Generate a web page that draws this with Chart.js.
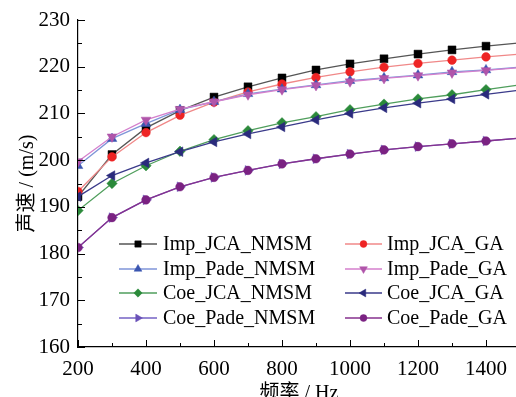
<!DOCTYPE html>
<html>
<head>
<meta charset="utf-8">
<script src="https://cdn.jsdelivr.net/npm/chart.js@4.4.1/dist/chart.umd.min.js"></script>
<style>
  html, body { margin: 0; padding: 0; background: #fff; overflow: hidden; }
  #wrap { width: 530px; height: 406px; }
</style>
</head>
<body>
<div id="wrap"><canvas id="grafico" width="530" height="406"></canvas></div>
<script>
// frecuencias (la ultima sin marcador, la linea sigue hasta el borde)
const freqs = [200, 300, 400, 500, 600, 700, 800, 900, 1000, 1100, 1200, 1300, 1400, 1500];

const impJcaNmsm  = [192.2, 201.2, 206.9, 210.6, 213.5, 215.7, 217.6, 219.3, 220.6, 221.7, 222.7, 223.6, 224.4, 225.1];
const impJcaGa    = [193.3, 200.7, 205.9, 209.6, 212.4, 214.6, 216.3, 217.7, 218.9, 219.9, 220.7, 221.4, 222.1, 222.7];
const impPadeNmsm = [198.8, 204.6, 207.8, 210.8, 212.5, 214.2, 215.2, 216.1, 217.0, 217.6, 218.2, 218.9, 219.3, 219.9];
const impPadeGa   = [199.7, 205.0, 208.6, 210.9, 212.5, 214.0, 215.1, 216.0, 216.8, 217.5, 218.1, 218.7, 219.2, 219.8];
const coeJcaNmsm  = [189.2, 195.0, 198.8, 201.9, 204.4, 206.3, 208.0, 209.3, 210.8, 212.0, 213.1, 214.0, 215.1, 216.1];
const coeJcaGa    = [192.2, 196.7, 199.4, 201.8, 203.9, 205.6, 207.1, 208.6, 210.0, 211.2, 212.2, 213.1, 214.1, 215.0];
const coePadeNmsm = [181.3, 187.7, 191.5, 194.3, 196.3, 197.8, 199.2, 200.3, 201.3, 202.2, 202.9, 203.5, 204.1, 204.7];
const coePadeGa   = [181.3, 187.7, 191.5, 194.3, 196.3, 197.8, 199.2, 200.3, 201.3, 202.2, 202.9, 203.5, 204.1, 204.7];

const nombres = ['Imp_JCA_NMSM', 'Imp_JCA_GA', 'Imp_Pade_NMSM', 'Imp_Pade_GA',
                 'Coe_JCA_NMSM', 'Coe_JCA_GA', 'Coe_Pade_NMSM', 'Coe_Pade_GA'];
const series = [impJcaNmsm, impJcaGa, impPadeNmsm, impPadeGa, coeJcaNmsm, coeJcaGa, coePadeNmsm, coePadeGa];

const xTicks = [200, 400, 600, 800, 1000, 1200, 1400];
const yTicks = [160, 170, 180, 190, 200, 210, 220, 230];

// estilos
const lineColors  = ['#555555', '#f08888', '#7f95d8', '#d47fcc', '#4f9e5c', '#3a3a8a', '#7462c4', '#86318e'];
const pointColors = ['#000000', '#ee2424', '#3a55b0', '#b055aa', '#2b8a3a', '#2a2a7c', '#6a52b8', '#7a2282'];
const pStyles = ['rect', 'circle', 'triangle', 'triangle', 'rectRot', 'triangle', 'triangle', 'circle'];
const pRot    = [0, 0, 0, 180, 0, -90, 90, 0];
const pRadius = [5.6, 4.3, 5.6, 5.6, 5.2, 5.6, 5.6, 4.3];

const serif = "'Liberation Serif', 'Noto Sans CJK SC', serif";

const datasets = nombres.map((n, i) => ({
    label: n,
    data: freqs.map((f, j) => ({x: f, y: series[i][j]})),
    borderColor: lineColors[i],
    backgroundColor: pointColors[i],
    pointBorderColor: pointColors[i],
    borderWidth: 1.3,
    pointStyle: pStyles[i],
    rotation: pRot[i],
    pointRadius: freqs.map(f => f > 1400 ? 0 : pRadius[i]),
    pointBorderWidth: 0.5,
    tension: 0,
    order: 10 - i
}));

// ticks hacia adentro + leyenda en dos columnas
const extras = {
    id: 'extras',
    afterDraw(chart) {
        const ctx = chart.ctx;
        const xs = chart.scales.x, ys = chart.scales.y;
        const area = chart.chartArea;
        ctx.save();
        ctx.strokeStyle = '#000';
        ctx.lineWidth = 1;
        ctx.beginPath();
        for (let v = 200; v <= 1500; v += 100) {
            const px = Math.round(xs.getPixelForValue(v)) + 0.5;
            const len = v % 200 === 0 ? 7 : 4;
            ctx.moveTo(px, area.bottom);
            ctx.lineTo(px, area.bottom - len);
        }
        for (let v = 160; v <= 230; v += 5) {
            const py = Math.round(ys.getPixelForValue(v)) + 0.5;
            const len = v % 10 === 0 ? 7 : 4;
            ctx.moveTo(area.left, py);
            ctx.lineTo(area.left + len, py);
        }
        ctx.stroke();

        // leyenda
        const cols = [{x0: 119, x1: 157, tx: 163}, {x0: 345, x1: 382, tx: 387}];
        const rows = [244, 269, 293, 318];
        ctx.font = '20px ' + serif;
        ctx.textBaseline = 'middle';
        ctx.fillStyle = '#000';
        nombres.forEach((n, i) => {
            const c = cols[i % 2];
            const y = rows[Math.floor(i / 2)];
            ctx.strokeStyle = lineColors[i];
            ctx.lineWidth = 1.5;
            ctx.beginPath();
            ctx.moveTo(c.x0, y);
            ctx.lineTo(c.x1, y);
            ctx.stroke();
            ctx.fillStyle = pointColors[i];
            ctx.strokeStyle = pointColors[i];
            ctx.lineWidth = 0.5;
            Chart.helpers.drawPoint(ctx, {pointStyle: pStyles[i], rotation: pRot[i], radius: pRadius[i] * 0.8, borderWidth: 0.5},
                (c.x0 + c.x1) / 2, y);
            ctx.fillStyle = '#000';
            ctx.fillText(n, c.tx, y + 1);
        });
        ctx.restore();
    }
};

const ctx = document.getElementById('grafico').getContext('2d');
new Chart(ctx, {
    type: 'line',
    data: { datasets: datasets },
    options: {
        responsive: false,
        animation: false,
        layout: { padding: { top: 20, right: 10, left: 0, bottom: 0 } },
        plugins: { legend: { display: false }, tooltip: { enabled: false } },
        scales: {
            x: {
                type: 'linear',
                min: 200,
                max: 1500,
                afterFit: s => { s.height = 59; },
                afterBuildTicks: s => { s.ticks = xTicks.map(v => ({value: v})); },
                grid: { display: false },
                border: { display: true, color: '#000', width: 1.2 },
                ticks: { color: '#000', font: { family: serif, size: 21 }, padding: 2, maxRotation: 0, callback: v => String(v) },
                title: { display: true, text: '频率 / Hz', color: '#000', font: { family: serif, size: 20 }, padding: 0 }
            },
            y: {
                min: 160,
                max: 230,
                afterFit: s => { s.width = 78; },
                afterBuildTicks: s => { s.ticks = yTicks.map(v => ({value: v})); },
                grid: { display: false },
                border: { display: true, color: '#000', width: 1.2 },
                ticks: { color: '#000', font: { family: serif, size: 21 }, padding: 0, callback: v => String(v) },
                title: { display: true, text: '声速 / (m/s)', color: '#000', font: { family: serif, size: 20 }, padding: { top: 16, bottom: 0 } }
            }
        }
    },
    plugins: [extras]
});
</script>
</body>
</html>
